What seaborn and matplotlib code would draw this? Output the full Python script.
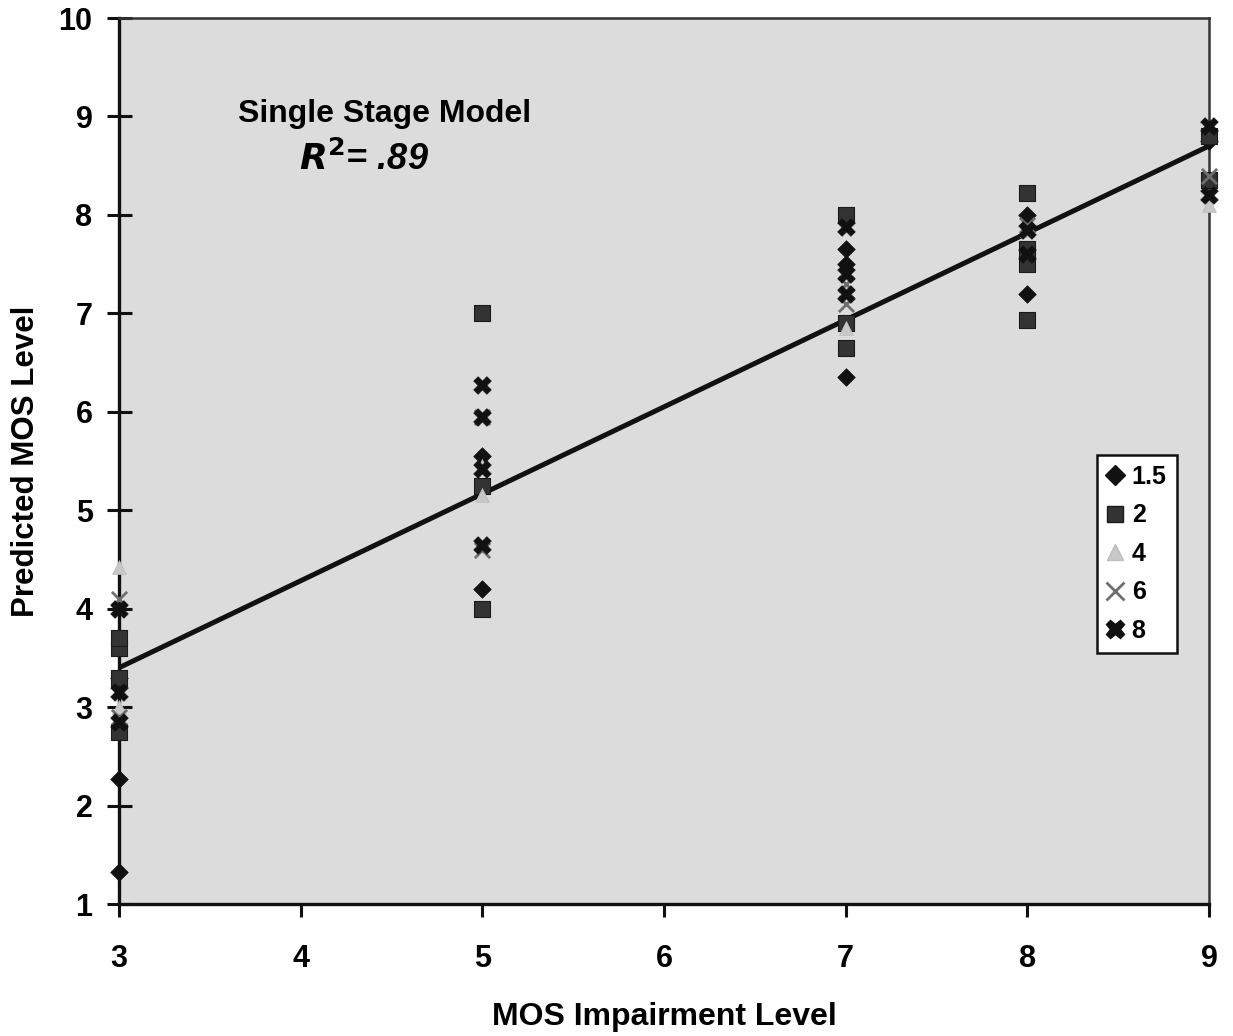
import matplotlib
matplotlib.use("Agg")
import matplotlib.pyplot as plt
import seaborn as sns
import pandas as pd
from matplotlib.lines import Line2D

# ---- data ----
series_names = ["1.5", "2", "4", "6", "8"]

s15_x = [3, 3, 3, 5, 5, 7, 7, 7, 8, 8, 9]
s15_y = [1.33, 2.27, 3.3, 4.2, 5.55, 6.35, 7.5, 7.65, 7.2, 8.0, 8.75]

s2_x = [3, 3, 3, 3, 5, 5, 5, 7, 7, 7, 8, 8, 8, 8, 9, 9]
s2_y = [2.75, 3.3, 3.6, 3.7, 4.0, 5.25, 7.0, 6.65, 6.9, 8.0, 6.93, 7.5, 7.65, 8.22, 8.35, 8.8]

s4_x = [3, 3, 5, 5, 7, 7, 8, 9]
s4_y = [4.42, 3.0, 5.15, 5.45, 6.85, 7.25, 7.85, 8.1]

s6_x = [3, 3, 5, 5, 7, 7, 8, 9]
s6_y = [4.1, 2.9, 4.6, 5.95, 7.1, 7.3, 7.9, 8.4]

s8_x = [3, 3, 3, 5, 5, 5, 5, 7, 7, 7, 8, 8, 9, 9]
s8_y = [4.0, 3.15, 2.85, 4.65, 5.42, 5.95, 6.27, 7.2, 7.4, 7.88, 7.6, 7.85, 8.2, 8.9]

fit_x = [3, 9]
fit_y = [3.4, 8.7]

x_ticks = [3, 4, 5, 6, 7, 8, 9]
y_ticks = [1, 2, 3, 4, 5, 6, 7, 8, 9, 10]

title_text = "Single Stage Model"
r2_text = "$\\bf{\\it{R}}^{\\bf{2}}$= .89"

# ---- styling ----
sns.set_theme(style="white")
plt.rcParams["font.family"] = ["Liberation Sans", "DejaVu Sans"]
plt.rcParams["font.weight"] = "bold"
for k in ["text.color", "axes.labelcolor", "xtick.color", "ytick.color"]:
    plt.rcParams[k] = "black"

fig = plt.figure(figsize=(12.33, 10.36), dpi=100)
ax = fig.add_axes([0.0965, 0.1274, 0.884, 0.8552])
ax.set_facecolor("#dcdcdc")

data_x = [s15_x, s2_x, s4_x, s6_x, s8_x]
data_y = [s15_y, s2_y, s4_y, s6_y, s8_y]
styles = [
    dict(marker="D", color="#111111", s=80, edgecolor="#111111", linewidth=0.5),
    dict(marker="s", color="#333333", s=140, edgecolor="#1a1a1a", linewidth=0.8),
    dict(marker="^", color="#c8c8c8", s=100, edgecolor="#bdbdbd", linewidth=0.5),
    dict(marker="x", color="#6e6e6e", s=120, linewidth=2.0),
    dict(marker="X", color="#111111", s=160, edgecolor="#111111", linewidth=0.5),
]

handles = []
for name, xs, ys, st in zip(series_names, data_x, data_y, styles):
    df = pd.DataFrame({"x": xs, "y": ys})
    sns.scatterplot(data=df, x="x", y="y", ax=ax, zorder=3, clip_on=False, **st)
    mk = st["marker"]
    if mk == "x":
        h = Line2D([], [], marker="x", linestyle="none", color=st["color"],
                   markersize=13, markeredgewidth=2.0)
    else:
        h = Line2D([], [], marker=mk, linestyle="none", color=st["color"],
                   markeredgecolor=st.get("edgecolor", st["color"]),
                   markersize={"D": 10, "s": 11, "^": 11, "X": 13}[mk])
    handles.append(h)

fit_df = pd.DataFrame({"x": fit_x, "y": fit_y})
sns.lineplot(data=fit_df, x="x", y="y", ax=ax, color="#111111", linewidth=3.6, zorder=2)

ax.set_xlim(3, 9)
ax.set_ylim(1, 10)
ax.set_xticks(x_ticks)
ax.set_yticks(y_ticks)
ax.set_xticklabels([str(v) for v in x_ticks], fontsize=22, fontweight="bold")
ax.set_yticklabels([str(v) for v in y_ticks], fontsize=22, fontweight="bold")
ax.tick_params(axis="y", direction="inout", length=18, width=2.2, color="#111111", pad=10, left=True)
ax.tick_params(axis="x", direction="out", length=9, width=2.2, color="#111111", pad=20, bottom=True)

for side in ["left", "bottom"]:
    ax.spines[side].set_color("#111111")
    ax.spines[side].set_linewidth(2.4)
for side in ["top", "right"]:
    ax.spines[side].set_color("#333333")
    ax.spines[side].set_linewidth(1.8)
    ax.spines[side].set_visible(True)

ax.set_xlabel("MOS Impairment Level", fontsize=23, fontweight="bold", labelpad=20)
ax.set_ylabel("Predicted MOS Level", fontsize=22.5, fontweight="bold", labelpad=13)

ax.text(4.46, 9.03, title_text, fontsize=23, fontweight="bold", ha="center", va="center")
ax.text(4.35, 8.56, r2_text, fontsize=26, fontweight="bold",
        fontstyle="italic", ha="center", va="center")

leg = ax.legend(handles, series_names, loc="upper left", bbox_to_anchor=(0.897, 0.507),
                frameon=True, fancybox=False, edgecolor="#111111", facecolor="white",
                framealpha=1, prop={"size": 18, "weight": "bold"}, handlelength=0.7,
                handletextpad=0.3, borderpad=0.4, labelspacing=0.58, borderaxespad=0)
leg.get_frame().set_linewidth(1.8)

fig.savefig("out.png", dpi=100)
